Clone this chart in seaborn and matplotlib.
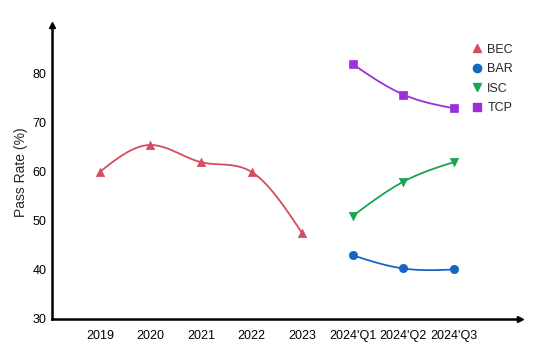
import numpy as np
import pandas as pd
import matplotlib
matplotlib.use("Agg")
import matplotlib.pyplot as plt
import seaborn as sns

# data
categories = ["2019", "2020", "2021", "2022", "2023", "2024'Q1", "2024'Q2", "2024'Q3"]
bec_cats = ["2019", "2020", "2021", "2022", "2023"]
bec_vals = [60.0, 65.5, 62.0, 60.0, 47.5]
quarter_cats = ["2024'Q1", "2024'Q2", "2024'Q3"]
bar_vals = [43.0, 40.3, 40.1]
isc_vals = [51.0, 58.0, 62.0]
tcp_vals = [82.0, 75.8, 73.0]

series = [
    ("BEC", bec_cats, bec_vals, "#d64b5e", "^"),
    ("BAR", quarter_cats, bar_vals, "#1467c0", "o"),
    ("ISC", quarter_cats, isc_vals, "#18a552", "v"),
    ("TCP", quarter_cats, tcp_vals, "#9b2fdc", "s"),
]


def natural_spline(x, y, n=100):
    # natural cubic spline through the points, only used to draw a smooth line
    x = np.asarray(x, float)
    y = np.asarray(y, float)
    k = len(x)
    h = np.diff(x)
    A = np.zeros((k, k))
    b = np.zeros(k)
    A[0, 0] = A[-1, -1] = 1
    for i in range(1, k - 1):
        A[i, i - 1] = h[i - 1]
        A[i, i] = 2 * (h[i - 1] + h[i])
        A[i, i + 1] = h[i]
        b[i] = 6 * ((y[i + 1] - y[i]) / h[i] - (y[i] - y[i - 1]) / h[i - 1])
    m = np.linalg.solve(A, b)
    xs = np.linspace(x[0], x[-1], n)
    idx = np.clip(np.searchsorted(x, xs) - 1, 0, k - 2)
    x0, x1 = x[idx], x[idx + 1]
    hh = x1 - x0
    t0, t1 = x1 - xs, xs - x0
    ys = (m[idx] * t0 ** 3 + m[idx + 1] * t1 ** 3) / (6 * hh) \
        + (y[idx] / hh - m[idx] * hh / 6) * t0 \
        + (y[idx + 1] / hh - m[idx + 1] * hh / 6) * t1
    return xs, ys


sns.set_style("white")
plt.rcParams["font.family"] = ["Liberation Sans", "DejaVu Sans"]

fig = plt.figure(figsize=(5.51, 3.56), dpi=100)
ax = fig.add_axes([0.094, 0.104, 0.849, 0.826])

pos = {c: i for i, c in enumerate(categories)}
handles = []
for name, cats, vals, color, marker in series:
    xi = [pos[c] for c in cats]
    xs, ys = natural_spline(xi, vals)
    ax.plot(xs, ys, color=color, lw=1.3, zorder=2)
    df = pd.DataFrame({"x": xi, "y": vals})
    sns.scatterplot(data=df, x="x", y="y", ax=ax, color=color, marker=marker,
                    s=36, edgecolor=color, linewidth=0.5, zorder=3)
    handles.append(plt.Line2D([], [], ls="", marker=marker, color=color,
                              markersize=6, label=name))

ax.set_xlim(-0.95, 8.3)
ax.set_ylim(30, 90)
ax.set_xticks(range(len(categories)))
ax.set_xticklabels(categories)
ax.set_yticks([30, 40, 50, 60, 70, 80])
ax.set_xlabel("")
ax.set_ylabel("Pass Rate (%)", fontsize=10, labelpad=3)

for side in ["top", "right"]:
    ax.spines[side].set_visible(False)
for side in ["left", "bottom"]:
    ax.spines[side].set_linewidth(1.8)
    ax.spines[side].set_color("black")
ax.tick_params(axis="both", direction="in", length=5, width=1.8,
               labelsize=9, colors="black")
ax.tick_params(axis="y", pad=4)
ax.tick_params(axis="x", pad=8)

# arrow heads on the axes
ax.plot(1, 0, ">k", transform=ax.transAxes, clip_on=False, markersize=5)
ax.plot(0, 1, "^k", transform=ax.transAxes, clip_on=False, markersize=5)

ax.legend(handles=handles, loc="upper right", bbox_to_anchor=(1.01, 0.975),
          frameon=False, fontsize=9, handletextpad=0.1, labelspacing=0.6,
          handlelength=1.5)

fig.savefig("out.png", dpi=100)
